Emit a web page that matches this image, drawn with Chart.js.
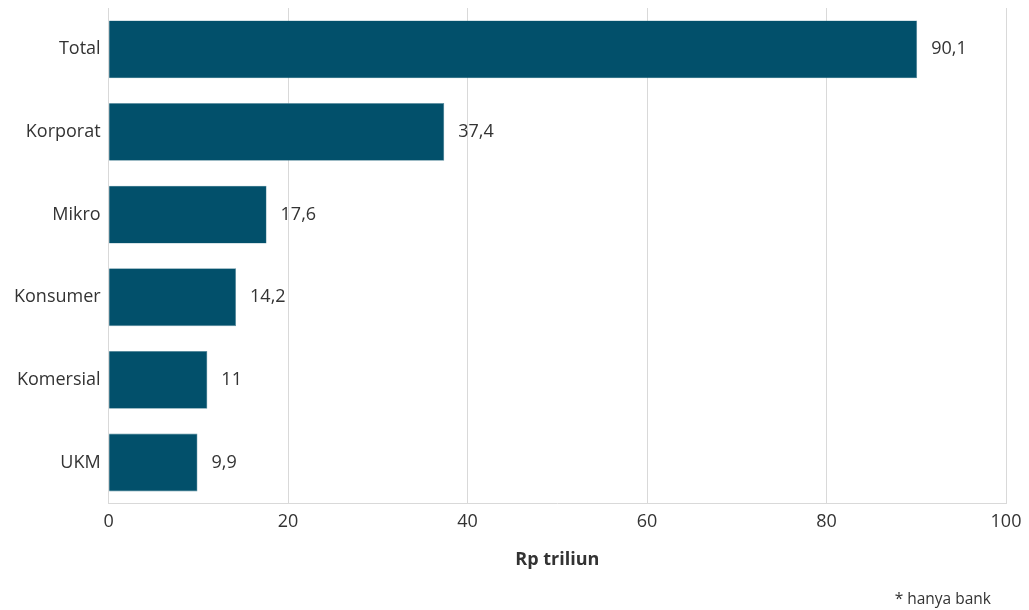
<!DOCTYPE html>
<html>
<head>
<meta charset="utf-8">
<script src="https://cdn.jsdelivr.net/npm/chart.js@4.4.0/dist/chart.umd.min.js"></script>
<style>
  html, body { margin: 0; padding: 0; background: #fff; }
  #wrap { width: 1029px; height: 610px; position: relative; }
  #note {
    position: absolute; right: 38px; top: 587px;
    font: 15.5px 'Open Sans', 'Noto Sans', sans-serif; color: #333;
  }
</style>
</head>
<body>
<div id="wrap">
  <canvas id="bar-chart"></canvas>
  <div id="note">* hanya bank</div>
</div>
<script>
const categories = ['Total', 'Korporat', 'Mikro', 'Konsumer', 'Komersial', 'UKM'];
const values = [90.1, 37.4, 17.6, 14.2, 11, 9.9];
const xTicks = [0, 20, 40, 60, 80, 100];

const fontFamily = "'Open Sans', 'Noto Sans', sans-serif";

// draws the value next to the end of each bar
const valueLabels = {
  id: 'valueLabels',
  afterDatasetsDraw(chart) {
    const { ctx } = chart;
    const meta = chart.getDatasetMeta(0);
    ctx.save();
    ctx.font = '18px ' + fontFamily;
    ctx.fillStyle = '#333';
    ctx.textBaseline = 'middle';
    ctx.textAlign = 'left';
    meta.data.forEach((bar, i) => {
      const txt = String(values[i]).replace('.', ',');
      ctx.fillText(txt, bar.x + 14, bar.y);
    });
    ctx.restore();
  }
};

const chart = new Chart(document.getElementById('bar-chart'), {
  type: 'bar',
  data: {
    labels: categories,
    datasets: [{
      data: values,
      backgroundColor: '#02506b',
      borderColor: '#5d8ea0',
      borderWidth: 0.6,
      barPercentage: 0.7,
      categoryPercentage: 1
    }]
  },
  options: {
    indexAxis: 'y',
    responsive: true,
    maintainAspectRatio: false,
    animation: false,
    layout: { padding: { left: 6, right: 23, top: 8, bottom: 39 } },
    plugins: {
      legend: { display: false },
      tooltip: { enabled: false }
    },
    scales: {
      x: {
        min: 0,
        max: 100,
        afterBuildTicks(axis) { axis.ticks = xTicks.map(v => ({ value: v })); },
        grid: { color: '#d9d9d9', drawTicks: false },
        border: { color: '#d9d9d9' },
        ticks: {
          color: '#333',
          padding: 7,
          font: { family: fontFamily, size: 18 }
        },
        title: {
          display: true,
          text: 'Rp triliun',
          color: '#333',
          font: { family: fontFamily, size: 18, weight: 'bold' },
          padding: { top: 10, bottom: 0 }
        }
      },
      y: {
        afterFit(scale) { scale.paddingTop = 0; scale.paddingBottom = 0; },
        grid: { display: false, drawTicks: false },
        border: { color: '#d9d9d9' },
        ticks: {
          color: '#333',
          padding: 8,
          font: { family: fontFamily, size: 18 }
        }
      }
    }
  },
  plugins: [valueLabels]
});
</script>
</body>
</html>
